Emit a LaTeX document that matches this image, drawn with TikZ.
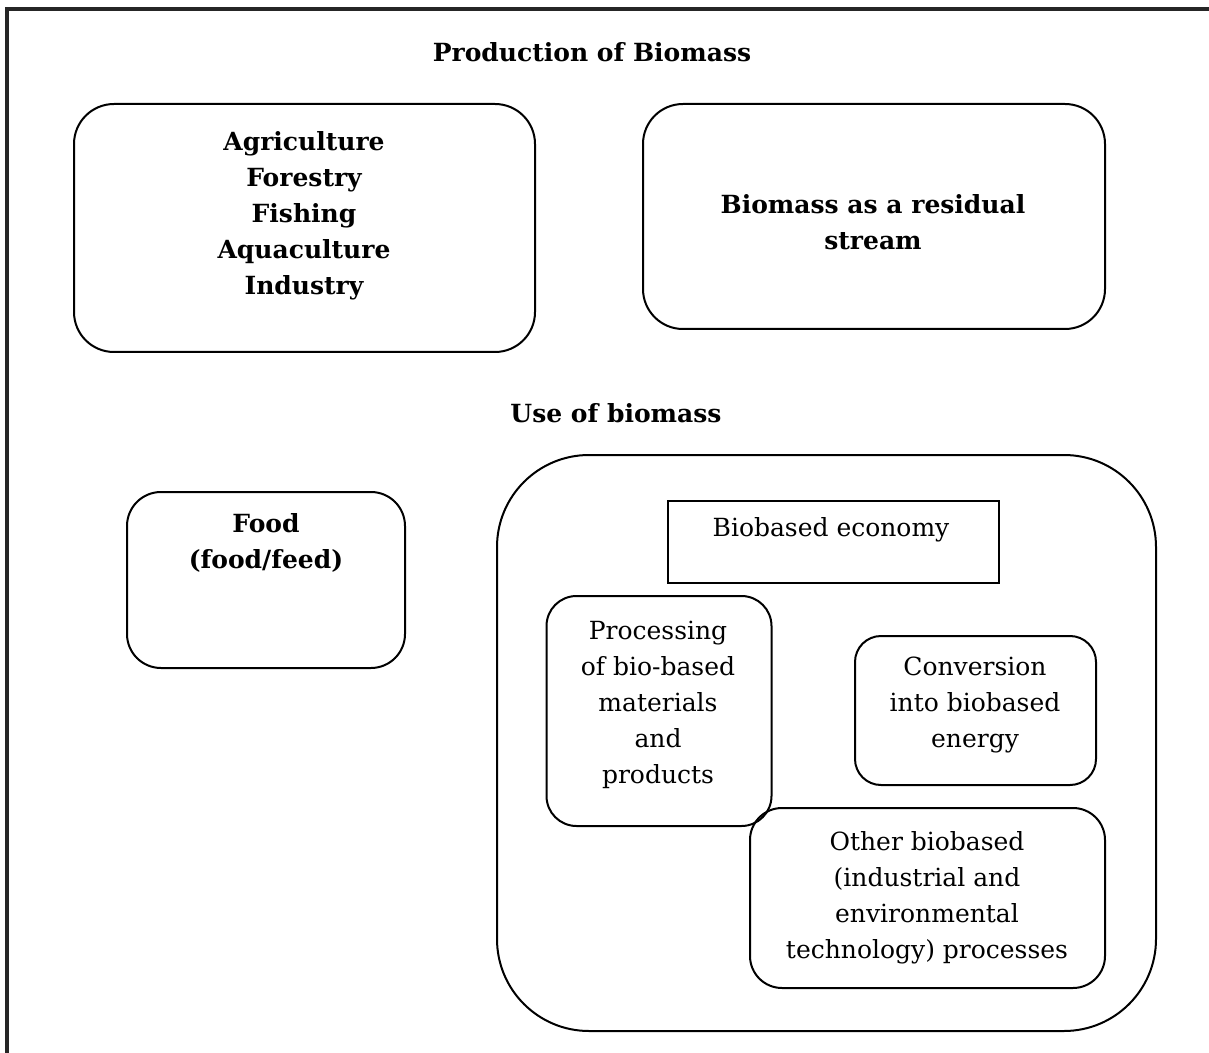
\documentclass[tikz,border=0pt]{standalone}
\usepackage{fontspec}
\setmainfont{DejaVu Serif}
\usepackage{tikz}
\usetikzlibrary{positioning}

\begin{document}
\begin{tikzpicture}[x=0.5pt,y=-0.5pt,
    every node/.style={font=\fontsize{12.5}{18}\selectfont},
    box/.style={draw,line width=1pt,inner sep=0pt,outer sep=0pt},
    txt/.style={anchor=north,align=center,inner sep=0pt},
    head/.style={txt,font=\fontsize{12.5}{18}\selectfont\bfseries}]
  \useasboundingbox (0,0) rectangle (1209,1053);
  \clip (0,0) rectangle (1209,1053);
  % outer frame, cut at the right and bottom
  \draw[line width=1.7pt,black!85] (7,9) rectangle (1230,1080);

  % production of biomass
  \node[head] (prodtitle) at (592,42) {Production of Biomass};
  \node[box,rounded corners=20pt,minimum width=230.5pt,minimum height=124pt] (agri) at (304.5,228) {};
  \node[head] (agritext) at (304,131) {Agriculture\\Forestry\\Fishing\\Aquaculture\\Industry};
  \node[box,rounded corners=20pt,minimum width=231pt,minimum height=112.5pt] (resid) at (874,216.5) {};
  \node[head] (residtext) at (873,194) {Biomass as a residual\\stream};

  % use of biomass
  \node[head] (usetitle) at (616,403) {Use of biomass};
  \node[box,rounded corners=17pt,minimum width=139pt,minimum height=88pt] (food) at (266,580) {};
  \node[head] (foodtext) at (266,513) {Food\\(food/feed)};

  \node[box,rounded corners=46pt,minimum width=329.5pt,minimum height=288pt] (use) at (826.5,743) {};
  \node[box,minimum width=165.5pt,minimum height=41pt] (econ) at (833.5,541.5) {};
  \node[txt] (econtext) at (831,517) {Biobased economy};
  \node[box,rounded corners=15pt,minimum width=112.5pt,minimum height=115pt] (proc) at (659,711) {};
  \node[txt] (proctext) at (658,621) {Processing\\of bio-based\\materials\\and\\products};
  \node[box,rounded corners=13pt,minimum width=120.5pt,minimum height=74.5pt] (conv) at (975.5,710.5) {};
  \node[txt] (convtext) at (975,657) {Conversion\\into biobased\\energy};
  \node[box,rounded corners=16pt,minimum width=177.5pt,minimum height=90pt] (other) at (927.5,898) {};
  \node[txt] (othertext) at (927,831) {Other biobased\\(industrial and\\environmental\\technology) processes};
\end{tikzpicture}
\end{document}
